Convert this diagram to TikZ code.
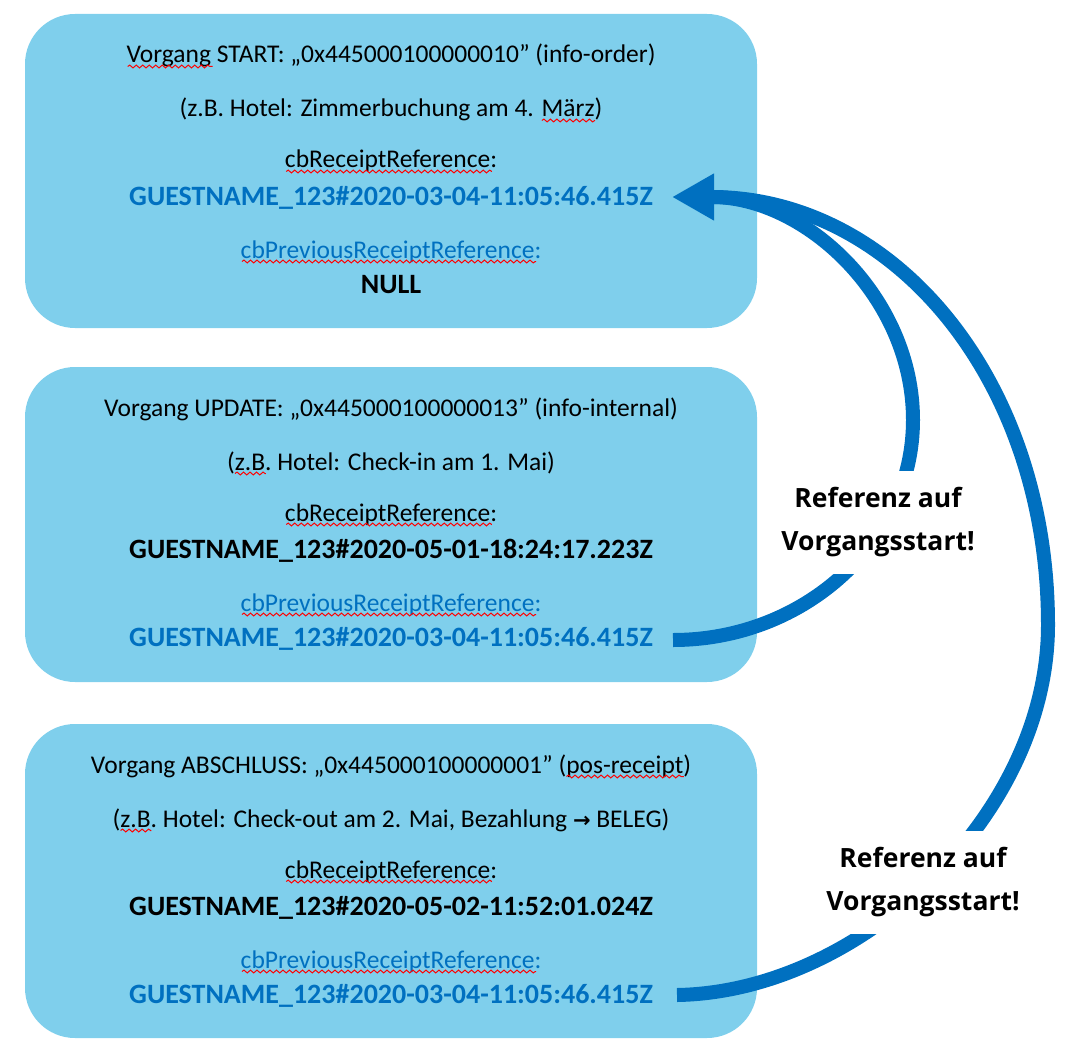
\documentclass[tikz,border=0pt]{standalone}
\usepackage{fontspec}
\setmainfont{Carlito}
\newfontfamily\labelfam{Open Sans}
\newfontfamily\symfam{DejaVu Sans}
\usetikzlibrary{arrows.meta,decorations.pathmorphing}
\definecolor{boxblue}{HTML}{7FCFEC}
\definecolor{txtblue}{HTML}{0070C0}
\newcommand\regf{\fontsize{25.5}{30}\selectfont}
\newcommand\bldf{\fontsize{28}{33}\selectfont\bfseries}
\newcommand\labelf{\labelfam\bfseries\fontsize{26.5}{43}\selectfont}
\newcommand\arr{{\symfam\bfseries\fontsize{21}{21}\selectfont →}}
% #1 line node, #2 text before the word, #3 the word
\newcommand\sqmark[3]{%
  \path (#1.base west) node[reg, anchor=base west] (sqp) {\phantom{#2}}
        (sqp.base east) node[reg, anchor=base west] (sqw) {\phantom{#3}};
  \draw[squig] ([yshift=-3.5pt]sqw.base west) -- ([yshift=-3.5pt]sqw.base east);}
\tikzset{
  card/.style={fill=boxblue, rounded corners=50pt, minimum width=732pt, inner sep=0pt},
  reg/.style={anchor=base, inner sep=0pt, font=\regf},
  bld/.style={anchor=base, inner sep=0pt, font=\bldf},
  conn/.style={draw=txtblue, line width=14pt},
  squig/.style={draw=red, line width=1pt, decorate, decoration={snake, amplitude=1.4pt, segment length=6.5pt}},
  lbl/.style={fill=white, font=\labelf, align=center, minimum height=103pt, inner xsep=4pt, inner ysep=0pt}
}
\begin{document}
\begin{tikzpicture}[x=1pt,y=-1pt]
\useasboundingbox (0,0) rectangle (1065,1051);
% boxes
\node[card, minimum height=314pt] (b1) at (391,171) {};
\node[card, minimum height=315pt] (b2) at (391,524.5) {};
\node[card, minimum height=314pt] (b3) at (391,881) {};
% box 1
\node[reg] (b1l1) at (391,63) {Vorgang START: „0x445000100000010” (info-order)};
\node[reg] (b1l2) at (391,117) {(z.B. Hotel: Zimmerbuchung am 4. März)};
\node[reg] (b1l3) at (391,168) {cbReceiptReference:};
\node[bld, text=txtblue] (b1l4) at (391,205) {GUESTNAME\_123\#2020-03-04-11:05:46.415Z};
\node[reg, text=txtblue] (b1l5) at (391,258) {cbPreviousReceiptReference:};
\node[bld] (b1l6) at (391,293) {NULL};
% box 2
\node[reg] (b2l1) at (391,416) {Vorgang UPDATE: „0x445000100000013” (info-internal)};
\node[reg] (b2l2) at (391,470) {(z.B. Hotel: Check-in am 1. Mai)};
\node[reg] (b2l3) at (391,521) {cbReceiptReference:};
\node[bld] (b2l4) at (391,558) {GUESTNAME\_123\#2020-05-01-18:24:17.223Z};
\node[reg, text=txtblue] (b2l5) at (391,611) {cbPreviousReceiptReference:};
\node[bld, text=txtblue] (b2l6) at (391,646) {GUESTNAME\_123\#2020-03-04-11:05:46.415Z};
% box 3
\node[reg] (b3l1) at (391,773) {Vorgang ABSCHLUSS: „0x445000100000001” (pos-receipt)};
\node[reg] (b3l2) at (391,827) {(z.B. Hotel: Check-out am 2. Mai, Bezahlung \arr\ BELEG)};
\node[reg] (b3l3) at (391,878) {cbReceiptReference:};
\node[bld] (b3l4) at (391,915) {GUESTNAME\_123\#2020-05-02-11:52:01.024Z};
\node[reg, text=txtblue] (b3l5) at (391,968) {cbPreviousReceiptReference:};
\node[bld, text=txtblue] (b3l6) at (391,1003) {GUESTNAME\_123\#2020-03-04-11:05:46.415Z};
% spell-check squiggles
\sqmark{b1l1}{}{Vorgang}
\sqmark{b1l2}{(z.B. Hotel: Zimmerbuchung am 4. }{März}
\sqmark{b1l3}{}{cbReceiptReference}
\sqmark{b1l5}{}{cbPreviousReceiptReference}
\sqmark{b2l2}{(}{z.B}
\sqmark{b2l3}{}{cbReceiptReference}
\sqmark{b2l5}{}{cbPreviousReceiptReference}
\sqmark{b3l1}{Vorgang ABSCHLUSS: „0x445000100000001” (}{pos-receipt}
\sqmark{b3l2}{(}{z.B}
\sqmark{b3l3}{}{cbReceiptReference}
\sqmark{b3l5}{}{cbPreviousReceiptReference}
% connectors
\coordinate (tip) at (672,197);
\coordinate (i0) at (673,640);
\coordinate (o0) at (677,995);
\coordinate (imid) at (913,420);
\coordinate (omid) at (1048,625);
\draw[conn] (i0) .. controls (805,640) and (913,541) .. (imid)
  .. controls (913,297) and (805,197) .. ([xshift=40pt]tip);
\draw[conn, -{Triangle[length=42pt,width=44pt]}] (o0) .. controls (860,992) and (1048,815) .. (omid)
  .. controls (1048,377) and (892,197) .. (tip);
% labels
\node[lbl] (r1) at (878,522) {Referenz auf\\Vorgangsstart!};
\node[lbl] (r2) at (923,882) {Referenz auf\\Vorgangsstart!};
\end{tikzpicture}
\end{document}
